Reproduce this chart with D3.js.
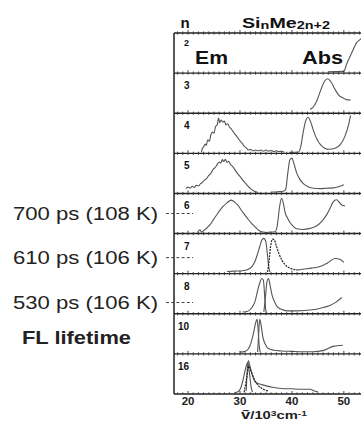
<!DOCTYPE html>
<html>
<head>
<meta charset="utf-8">
<script src="https://cdn.jsdelivr.net/npm/d3@7"></script>
<style>
  body { margin: 0; background: #fff; }
  svg { font-family: "Liberation Sans", Arial, sans-serif; }
</style>
</head>
<body>
<div id="chart"></div>
<script>
// chain lengths, one panel each
let nValues = [2, 3, 4, 5, 6, 7, 8, 10, 16];
let xTickLabels = [20, 30, 40, 50];

// lifetimes written on the left, for n = 6, 7, 8
let lifetimeN = [6, 7, 8];
let lifetimeText = ["700 ps (108 K)", "610 ps (106 K)", "530 ps (106 K)"];

// spectra: [wavenumber / 10^3 cm-1, relative intensity in panel]
let abs2 = [[47, 0.01], [50.0, 0.02], [50.5, 0.2], [51.5, 0.5], [52.5, 0.78], [53.1, 0.85], [53.6, 0.92]];
let abs3 = [[43.5, 0.08], [44, 0.12], [44.8, 0.3], [45.6, 0.6], [46.3, 0.82], [46.9, 0.88], [47.5, 0.8], [48.3, 0.6], [49, 0.45], [49.8, 0.38], [50.5, 0.33], [51.3, 0.32]];
let em4 = [[22.6, 0], [22.7, 0.08], [23.0, 0.14], [23.3, 0.22], [23.5, 0.18], [23.8, 0.33], [24.1, 0.29], [24.4, 0.46], [24.7, 0.53], [25.0, 0.5], [25.3, 0.68], [25.6, 0.72], [25.9, 0.9], [26.1, 0.78], [26.4, 0.85], [26.7, 0.79], [27.0, 0.82], [27.3, 0.72], [27.6, 0.75], [28.0, 0.66], [28.4, 0.6], [28.8, 0.52], [29.2, 0.45], [29.6, 0.38], [30.0, 0.3], [30.4, 0.24], [30.8, 0.16], [31.2, 0.12], [31.6, 0.06], [32, 0.08], [32.5, 0.04], [33, 0.06], [33.5, 0.04], [34, 0.06], [34.5, 0.03], [35, 0.06], [35.5, 0.03], [36, 0.05], [36.5, 0.02], [37, 0.04], [37.5, 0.02], [38, 0.03], [38.5, 0.0]];
let abs4 = [[39.5, 0], [41.3, 0.01], [41.7, 0.15], [42.2, 0.55], [42.7, 0.85], [43.1, 0.92], [43.6, 0.8], [44.2, 0.55], [44.8, 0.35], [45.5, 0.2], [46.3, 0.11], [47.2, 0.08], [48.2, 0.1], [49.3, 0.2], [50.2, 0.42], [50.9, 0.72], [51.3, 0.97]];
let em5 = [[19.6, 0.1], [20, 0.14], [20.4, 0.11], [20.8, 0.16], [21.2, 0.13], [21.6, 0.19], [22, 0.17], [22.4, 0.23], [22.8, 0.27], [23.2, 0.33], [23.6, 0.37], [24, 0.45], [24.4, 0.5], [24.8, 0.6], [25.2, 0.65], [25.6, 0.73], [26, 0.8], [26.3, 0.77], [26.6, 0.86], [26.9, 0.81], [27.2, 0.87], [27.5, 0.79], [27.8, 0.82], [28.2, 0.73], [28.6, 0.68], [29, 0.6], [29.5, 0.5], [30, 0.42], [30.5, 0.33], [31, 0.25], [31.5, 0.17], [32, 0.1], [32.5, 0.05], [33, 0.02], [33.5, 0.0]];
let abs5 = [[36, 0.01], [37.3, 0.02], [38.3, 0.03], [38.8, 0.08], [39.2, 0.5], [39.6, 0.85], [40, 0.9], [40.4, 0.75], [40.9, 0.52], [41.5, 0.35], [42.2, 0.23], [43.1, 0.15], [44.2, 0.11], [45.4, 0.1], [46.6, 0.11], [47.9, 0.12], [49, 0.15], [50, 0.2]];
let em6 = [[21.8, 0.0], [22.3, 0.07], [22.6, 0.01], [23.2, 0.07], [24.2, 0.2], [25.0, 0.36], [25.8, 0.52], [26.7, 0.68], [27.5, 0.78], [28.3, 0.85], [29.0, 0.8], [29.6, 0.72], [30.4, 0.56], [31.3, 0.4], [32.1, 0.26], [32.9, 0.15], [33.6, 0.06], [34.2, 0.02], [35.5, 0.0]];
let abs6 = [[35.5, 0.01], [36.8, 0.02], [37.2, 0.2], [37.6, 0.65], [38, 0.9], [38.3, 0.8], [38.7, 0.52], [39.2, 0.37], [39.6, 0.27], [40.3, 0.16], [40.9, 0.1], [42.1, 0.08], [43.5, 0.11], [44.8, 0.18], [45.8, 0.3], [46.7, 0.47], [47.4, 0.65], [47.9, 0.8], [48.6, 0.86], [49.1, 0.8], [49.6, 0.72], [50.2, 0.7]];
let em7 = [[27.5, 0.03], [29, 0.04], [30.5, 0.05], [31.5, 0.08], [32.3, 0.16], [32.9, 0.3], [33.4, 0.5], [33.8, 0.68], [34.2, 0.85], [34.6, 0.9], [35.0, 0.8], [35.3, 0.45], [35.6, 0.1], [35.8, 0.02]];
let ex7 = [[35.3, 0.02], [35.6, 0.3], [35.9, 0.7], [36.3, 0.88], [36.6, 0.86], [37.0, 0.7], [37.5, 0.5], [38.1, 0.32], [39, 0.17], [40, 0.1], [41.2, 0.07]];
let abs7 = [[41.2, 0.07], [42.1, 0.09], [43.8, 0.12], [45.4, 0.16], [46.8, 0.25], [48.3, 0.37], [49.2, 0.35], [50, 0.27]];
let em8 = [[30.5, 0.02], [31.5, 0.04], [32.3, 0.14], [32.9, 0.3], [33.4, 0.58], [33.8, 0.78], [34.2, 0.9], [34.5, 0.86], [34.8, 0.35], [35.0, 0.05], [35.2, 0]];
let abs8 = [[34.6, 0.02], [34.9, 0.4], [35.2, 0.82], [35.5, 0.9], [35.8, 0.72], [36.2, 0.45], [36.7, 0.28], [37.1, 0.17], [38, 0.09], [39, 0.05], [41, 0.05], [44, 0.08], [45.5, 0.12], [47.3, 0.19], [48.5, 0.28], [49.6, 0.4]];
let em10 = [[30, 0.02], [31, 0.04], [31.8, 0.15], [32.3, 0.35], [32.7, 0.58], [33.0, 0.78], [33.3, 0.88], [33.5, 0.6], [33.7, 0.2], [33.9, 0.02]];
let abs10 = [[33.4, 0.02], [33.6, 0.5], [33.8, 0.88], [34.1, 0.7], [34.4, 0.42], [34.9, 0.22], [35.4, 0.12], [36.5, 0.07], [38, 0.05], [40, 0.04], [42, 0.03], [44, 0.03], [46, 0.06], [47.9, 0.17], [49.8, 0.2]];
let em16 = [[29, 0.01], [29.6, 0.03], [30.2, 0.15], [30.6, 0.35], [31, 0.6], [31.3, 0.75], [31.5, 0.8], [31.8, 0.55], [32.1, 0.2], [32.4, 0.02]];
let abs16 = [[31.2, 0.05], [31.4, 0.6], [31.6, 0.85], [31.9, 0.72], [32.1, 0.6], [32.5, 0.42], [32.9, 0.3], [33.5, 0.25], [34.2, 0.22], [35.3, 0.18], [36.3, 0.15], [38, 0.12], [40, 0.11], [42, 0.1], [43.5, 0.1], [44.2, 0.06], [45, 0.03]];
let ex16 = [[30.8, 0.02], [31.3, 0.4], [31.7, 0.7], [32.2, 0.55], [32.8, 0.35], [33.5, 0.2], [34.5, 0.1], [35.5, 0.05]];

// which curves go in which panel (solid / dotted)
let spectra = [
    {n: 2, solid: [abs2], dotted: []},
    {n: 3, solid: [abs3], dotted: []},
    {n: 4, solid: [em4, abs4], dotted: []},
    {n: 5, solid: [em5, abs5], dotted: []},
    {n: 6, solid: [em6, abs6], dotted: []},
    {n: 7, solid: [em7, abs7], dotted: [ex7]},
    {n: 8, solid: [em8, abs8], dotted: []},
    {n: 10, solid: [em10, abs10], dotted: []},
    {n: 16, solid: [em16, abs16], dotted: [ex16]}
];

let width = 361, height = 422;
let plotLeft = 174, plotRight = 361, plotTop = 33, plotBottom = 394;
let lifetimeOffset = [0.5, 0.6, 0.72]; // where the dashed marks sit in their panels

let svg = d3.select("#chart").append("svg")
    .attr("width", width)
    .attr("height", height);

// x: wavenumber, the panels share it
let xScale = d3.scaleLinear()
    .domain([17.3, 53.3])
    .range([plotLeft, plotRight]);

// y: one band per n
let band = d3.scaleBand()
    .domain(nValues)
    .range([plotTop, plotBottom]);

let line = d3.line()
    .x(function(d) { return xScale(d[0]); })
    .curve(d3.curveMonotoneX);

svg.append("clipPath").attr("id", "plotclip")
    .append("rect")
    .attr("x", plotLeft).attr("y", plotTop)
    .attr("width", plotRight - plotLeft).attr("height", plotBottom - plotTop);

let curves = svg.append("g").attr("clip-path", "url(#plotclip)");

spectra.forEach(function(p) {
    let y0 = band(p.n);
    let yScale = d3.scaleLinear().domain([0, 1]).range([y0 + band.bandwidth() - 1, y0 + 1]);
    line.y(function(d) { return yScale(d[1]); });

    p.solid.forEach(function(s) {
        curves.append("path")
            .datum(s)
            .attr("fill", "none")
            .attr("stroke", "#555")
            .attr("stroke-width", 1.1)
            .attr("d", line);
    });
    p.dotted.forEach(function(s) {
        curves.append("path")
            .datum(s)
            .attr("fill", "none")
            .attr("stroke", "#222")
            .attr("stroke-width", 1.2)
            .attr("stroke-dasharray", "2,1")
            .attr("d", line);
    });
});

// separators between panels, with little ticks on them
let minorTicks = d3.range(18, 54, 1);
let separators = nValues.map(function(n) { return band(n); }).concat([plotBottom]);

separators.forEach(function(y, i) {
    svg.append("line")
        .attr("x1", plotLeft).attr("x2", plotRight)
        .attr("y1", y).attr("y2", y)
        .attr("stroke", "#222")
        .attr("stroke-width", 1.4);
    svg.append("g").selectAll("line")
        .data(minorTicks)
        .enter()
        .append("line")
        .attr("x1", function(d) { return xScale(d); })
        .attr("x2", function(d) { return xScale(d); })
        .attr("y1", function(d) { return y - (d % 10 === 0 ? 3 : 1.6); })
        .attr("y2", function(d) { return y + (i === separators.length - 1 ? 0 : 1.6); })
        .attr("stroke", "#333")
        .attr("stroke-width", 0.9);
});

// left frame
svg.append("line")
    .attr("x1", plotLeft).attr("x2", plotLeft)
    .attr("y1", plotTop).attr("y2", plotBottom)
    .attr("stroke", "#222")
    .attr("stroke-width", 1.5);

// n in each panel
svg.append("g").selectAll("text")
    .data(nValues)
    .enter()
    .append("text")
    .attr("x", function(d) { return d >= 10 ? 178 : 184; })
    .attr("y", function(d) { return band(d) + (d === 2 ? 13 : 16); })
    .style("font-size", function(d) { return d === 2 ? "9px" : "10px"; })
    .style("font-weight", "bold")
    .attr("fill", "#111")
    .text(function(d) { return d; });

// bottom tick labels
svg.append("g").selectAll("text")
    .data(xTickLabels)
    .enter()
    .append("text")
    .attr("x", function(d) { return xScale(d); })
    .attr("y", 405)
    .attr("text-anchor", "middle")
    .style("font-size", "11.5px")
    .style("font-weight", "bold")
    .attr("fill", "#222")
    .text(function(d) { return d; });

// x label
let xl = svg.append("text")
    .attr("x", 241).attr("y", 419)
    .attr("textLength", 66)
    .attr("lengthAdjust", "spacingAndGlyphs")
    .style("font-size", "11.5px")
    .style("font-weight", "bold")
    .attr("fill", "#222");
xl.append("tspan").style("font-size", "13px").text("\u1E7D");
xl.append("tspan").text("/10");
xl.append("tspan").attr("dy", -3).style("font-size", "8px").text("3");
xl.append("tspan").attr("dy", 3).text("cm");
xl.append("tspan").attr("dy", -3).style("font-size", "8px").text("-1");

// header
svg.append("text")
    .attr("x", 185).attr("y", 28)
    .attr("text-anchor", "middle")
    .style("font-size", "15px")
    .style("font-weight", "bold")
    .attr("fill", "#111")
    .text("n");

let title = svg.append("text")
    .attr("x", 242).attr("y", 28)
    .attr("textLength", 88)
    .attr("lengthAdjust", "spacingAndGlyphs")
    .style("font-weight", "bold")
    .attr("fill", "#111");
title.append("tspan").style("font-size", "15px").text("Si");
title.append("tspan").style("font-size", "11px").attr("dy", 1).text("n");
title.append("tspan").style("font-size", "15px").attr("dy", -1).text("Me");
title.append("tspan").style("font-size", "11px").attr("dy", 1).text("2n+2");

svg.append("text")
    .attr("x", 195).attr("y", 64)
    .attr("textLength", 33)
    .attr("lengthAdjust", "spacingAndGlyphs")
    .style("font-size", "18px")
    .style("font-weight", "bold")
    .attr("fill", "#111")
    .text("Em");

svg.append("text")
    .attr("x", 302).attr("y", 64)
    .attr("textLength", 41)
    .attr("lengthAdjust", "spacingAndGlyphs")
    .style("font-size", "18px")
    .style("font-weight", "bold")
    .attr("fill", "#111")
    .text("Abs");

// lifetimes, with dashed marks into the panels
lifetimeN.forEach(function(n, i) {
    let y = band(n) + band.bandwidth() * lifetimeOffset[i];
    svg.append("line")
        .attr("x1", 166).attr("x2", 193)
        .attr("y1", y).attr("y2", y)
        .attr("stroke", "#444")
        .attr("stroke-width", 1)
        .attr("stroke-dasharray", "3,2.2");
    svg.append("text")
        .attr("x", 13).attr("y", y + 6)
        .attr("textLength", 145)
        .attr("lengthAdjust", "spacingAndGlyphs")
        .style("font-size", "18px")
        .attr("fill", "#222")
        .text(lifetimeText[i]);
});

svg.append("text")
    .attr("x", 22).attr("y", 344)
    .attr("textLength", 109)
    .attr("lengthAdjust", "spacingAndGlyphs")
    .style("font-size", "18px")
    .style("font-weight", "bold")
    .attr("fill", "#222")
    .text("FL lifetime");
</script>
</body>
</html>
